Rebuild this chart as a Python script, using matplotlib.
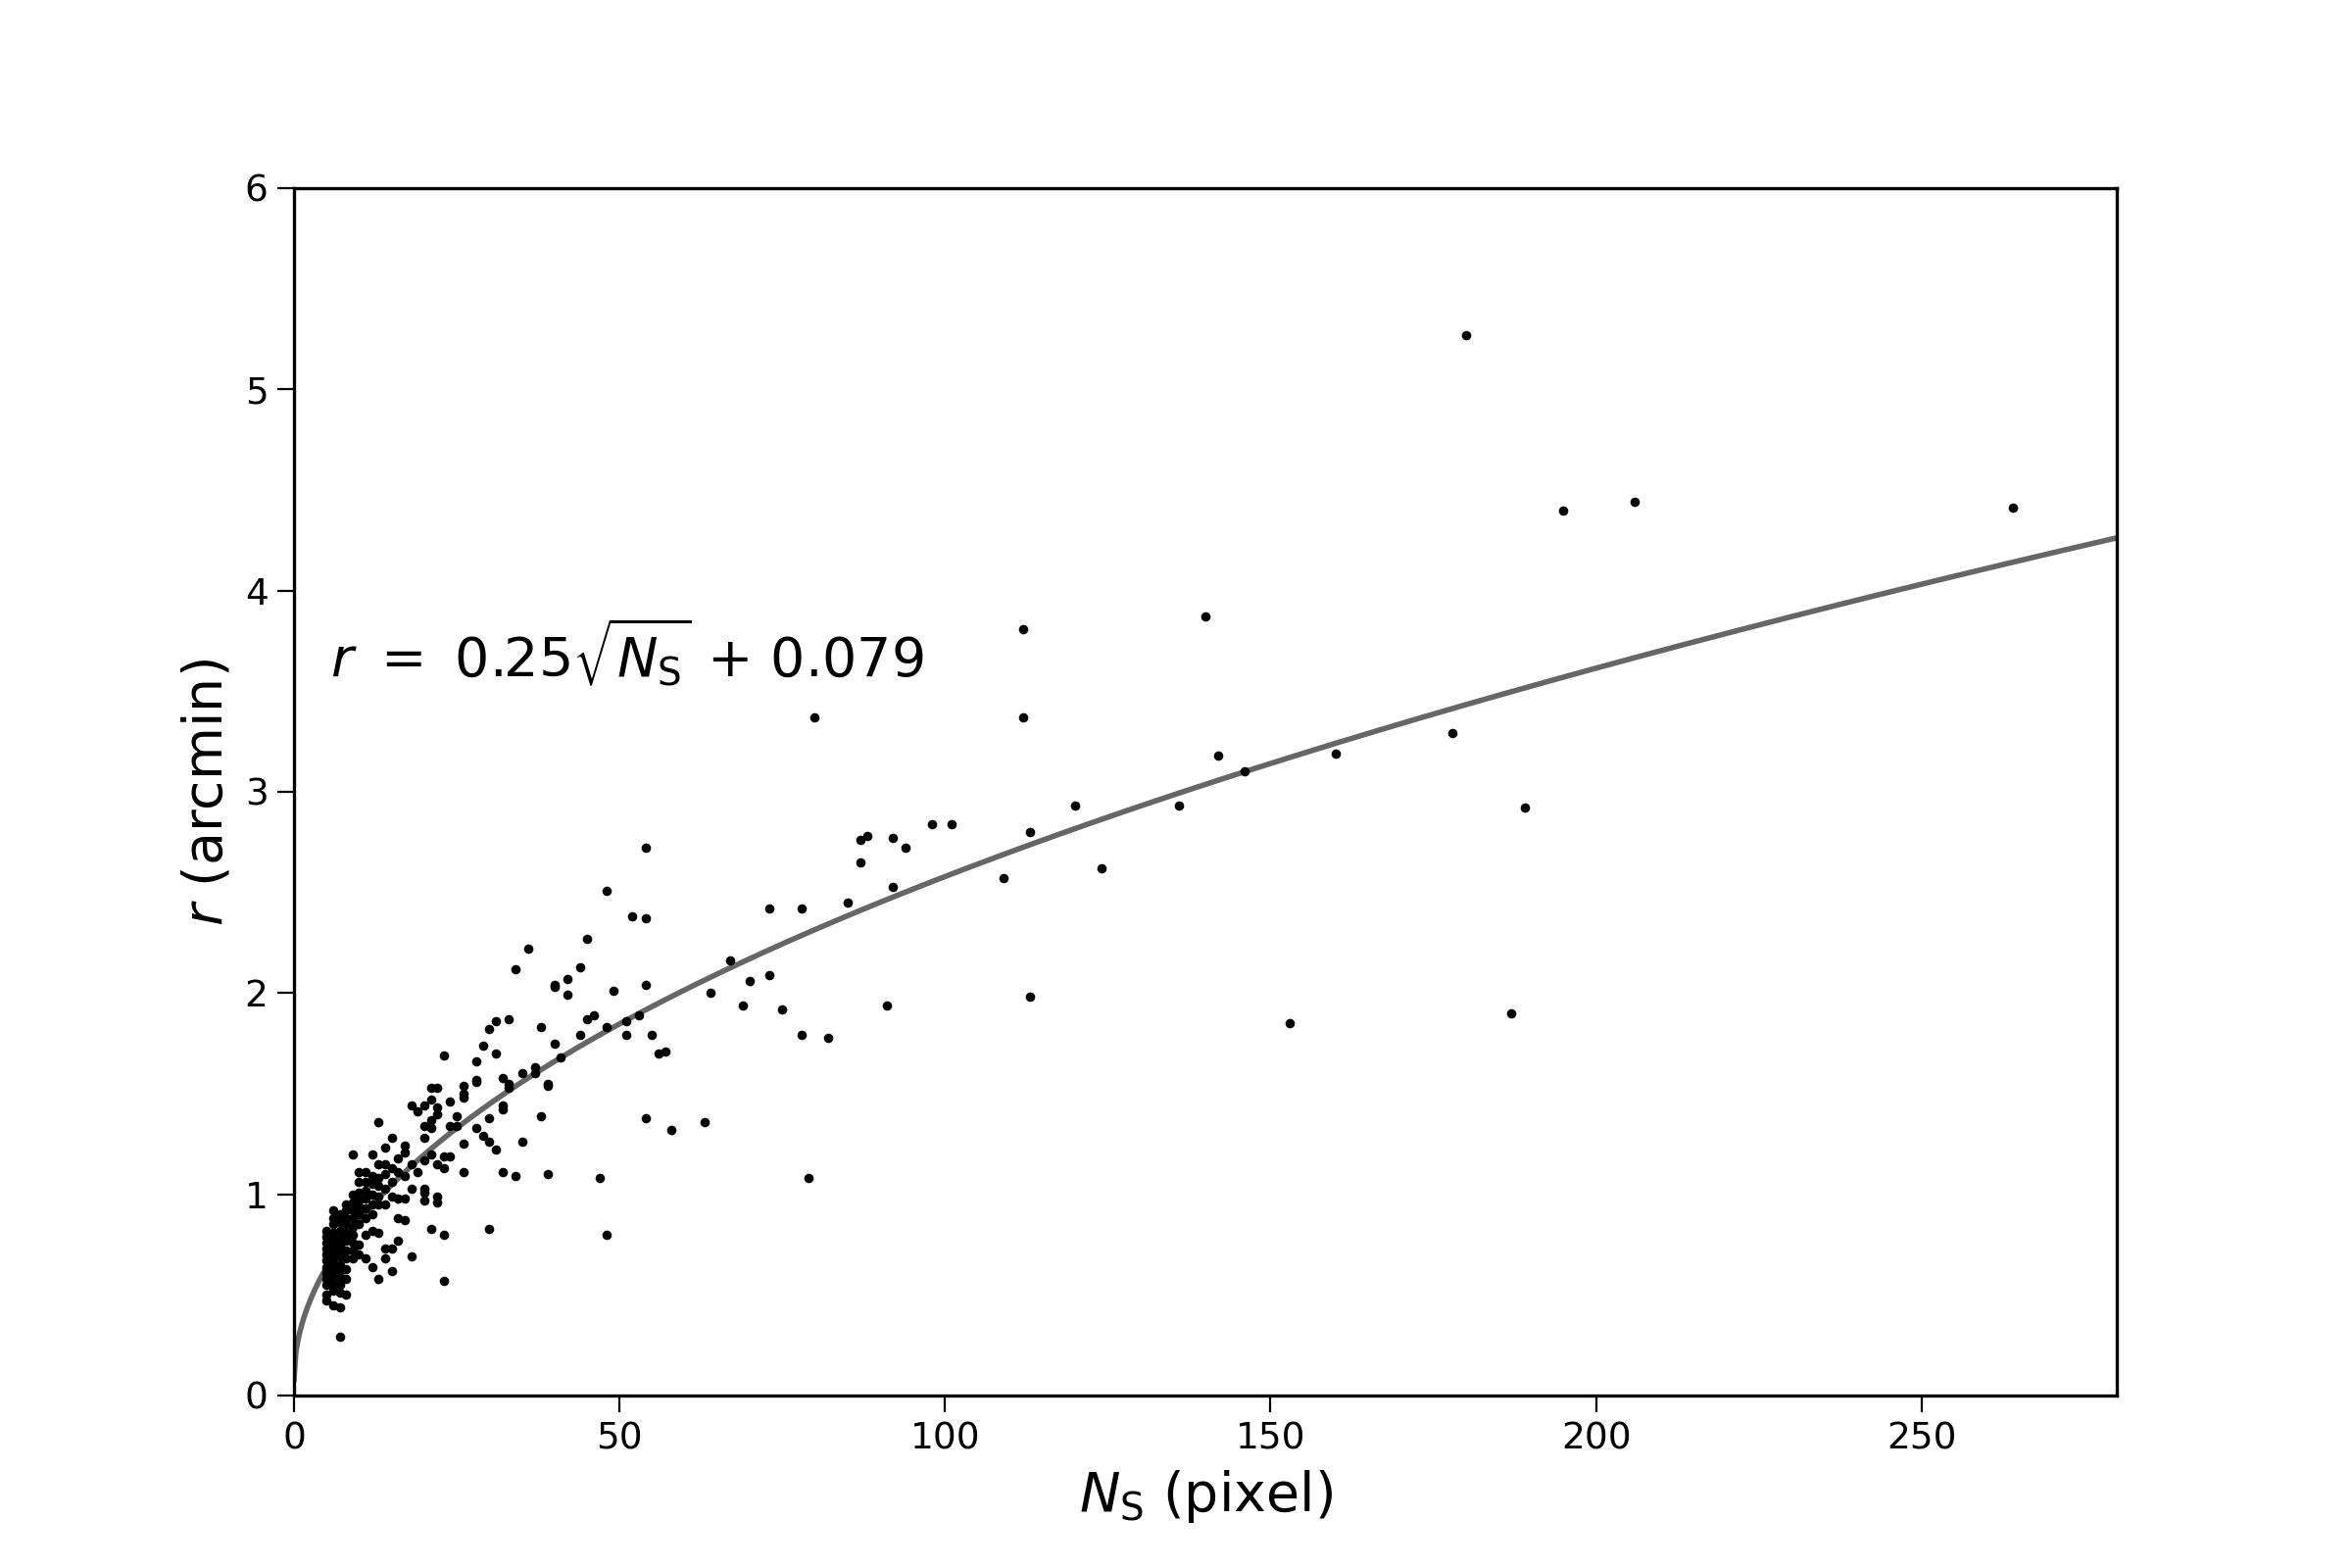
#!/usr/bin/env python3
"""Radius vs. pixel count of sources with the sqrt fit."""
import numpy as np
import matplotlib
matplotlib.use("Agg")
import matplotlib.pyplot as plt

# fit: r = A*sqrt(N_S) + B
A, B = 0.25, 0.079

# dense low-N cluster (N_S <= 26)
ns_core = ([5] * 12 + [6] * 14 + [7] * 14 + [8] * 11 + [9] * 10 + [10] * 9 + [11] * 8
           + [12] * 8 + [13] * 8 + [14] * 7 + [15] * 6 + [16] * 5 + [17] * 5 + [18] * 4
           + [19] * 2 + [20] * 7 + [21] * 6 + [22] * 6 + [23] * 5 + [24] * 3 + [25] * 2
           + [26] * 5)
r_core = [0.47, 0.50, 0.55, 0.58, 0.61, 0.64, 0.67, 0.70, 0.73, 0.76, 0.79, 0.82,
          0.45, 0.52, 0.56, 0.60, 0.63, 0.66, 0.69, 0.72, 0.75, 0.78, 0.81, 0.85, 0.88, 0.92,
          0.29, 0.44, 0.51, 0.55, 0.59, 0.62, 0.65, 0.69, 0.72, 0.75, 0.78, 0.82, 0.86, 0.90,
          0.50, 0.58, 0.63, 0.68, 0.72, 0.77, 0.81, 0.85, 0.88, 0.92, 0.95,
          0.68, 0.72, 0.76, 0.80, 0.84, 0.88, 0.92, 0.96, 1.00, 1.20,
          0.70, 0.75, 0.85, 0.90, 0.94, 0.97, 1.01, 1.06, 1.11,
          0.68, 0.80, 0.88, 0.93, 0.98, 1.02, 1.06, 1.11,
          0.64, 0.82, 0.90, 0.95, 1.00, 1.05, 1.09, 1.20,
          0.58, 0.81, 0.95, 0.99, 1.04, 1.08, 1.15, 1.36,
          0.68, 0.73, 0.95, 1.03, 1.10, 1.15, 1.23,
          0.62, 0.73, 0.99, 1.06, 1.13, 1.28,
          0.77, 0.88, 0.98, 1.11, 1.18,
          0.87, 0.98, 1.09, 1.21, 1.24,
          0.69, 1.03, 1.15, 1.44,
          1.11, 1.41,
          0.97, 1.01, 1.03, 1.17, 1.28, 1.34, 1.44,
          0.83, 1.20, 1.33, 1.37, 1.47, 1.53,
          0.96, 0.99, 1.15, 1.40, 1.43, 1.53,
          0.57, 0.80, 1.13, 1.19, 1.69,
          1.19, 1.34, 1.46,
          1.34, 1.39,
          1.11, 1.25, 1.48, 1.50, 1.54]

# intermediate range (27 < N_S < 72)
ns_mid = [48, 52, 54, 45, 36, 34, 44, 40, 40, 42, 42, 49, 54, 67, 70, 64, 69,
          33, 31, 30, 38, 29, 31, 28, 28, 28, 40, 44, 45, 46, 48, 51, 51, 53, 55, 56, 57,
          32, 33, 33, 35, 37, 37, 41, 39, 39, 32, 32, 30, 38, 54, 58, 63,
          28, 29, 30, 31, 35, 32, 34, 39, 47, 30, 48, 54]
r_mid = [2.51, 2.38, 2.37, 2.27, 2.22, 2.12, 2.13, 2.04, 2.03, 2.07, 1.99, 2.01, 2.04, 2.16, 2.06, 2.00, 1.94,
         1.87, 1.86, 1.82, 1.83, 1.74, 1.70, 1.66, 1.57, 1.56, 1.75, 1.79, 1.87, 1.89, 1.83, 1.86, 1.79, 1.89, 1.79, 1.70, 1.71,
         1.58, 1.55, 1.53, 1.60, 1.63, 1.60, 1.68, 1.55, 1.54, 1.44, 1.42, 1.38, 1.39, 1.38, 1.32, 1.36,
         1.33, 1.29, 1.26, 1.22, 1.26, 1.11, 1.09, 1.10, 1.08, 0.83, 0.80, 2.72]

# sparse large sources
ns_tail = [73, 78, 73, 75, 78, 82, 79, 80, 85, 87, 88, 87, 92, 94, 92, 91, 98, 101,
           109, 112, 112, 113, 113, 120, 124, 136, 140, 142, 146, 153, 160, 178, 180,
           187, 189, 195, 206, 264]
r_tail = [2.42, 2.42, 2.09, 1.92, 1.79, 1.78, 1.08, 3.37, 2.45, 2.76, 2.78, 2.65, 2.77, 2.72, 2.53, 1.94, 2.84, 2.84,
          2.57, 3.81, 3.37, 2.80, 1.98, 2.93, 2.62, 2.93, 3.87, 3.18, 3.10, 1.85, 3.19, 3.29, 5.27,
          1.90, 2.92, 4.40, 4.44, 4.41]

ns = np.array(ns_core + ns_mid + ns_tail, dtype=float)
r = np.array(r_core + r_mid + r_tail)

fig, ax = plt.subplots(figsize=(12, 8), dpi=200)
n_fit = np.linspace(0, 280, 1000)
ax.plot(n_fit, A * np.sqrt(n_fit) + B, color="0.4", lw=2.0, zorder=2)
ax.scatter(ns, r, s=12, c="k", linewidths=0, zorder=3)

ax.text(5.5, 3.69, r"$r\ =\ 0.25\sqrt{N_\mathrm{S}}$ + 0.079", fontsize=20, va="center")
ax.set_xlim(0, 280); ax.set_ylim(0, 6)
ax.set_xlabel(r"$N_\mathrm{S}$ (pixel)", fontsize=20)
ax.set_ylabel(r"$r$ (arcmin)", fontsize=20)
ax.tick_params(labelsize=13.5, length=6, width=0.8)
for sp in ax.spines.values():
    sp.set_linewidth(1.2)

fig.savefig("out.png", dpi=200)
